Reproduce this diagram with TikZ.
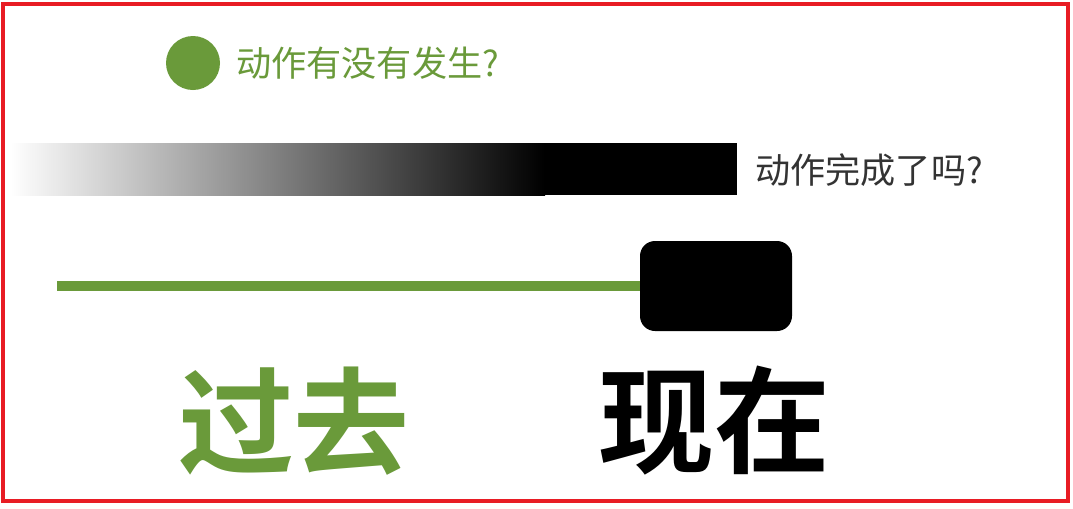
\documentclass[tikz,border=0pt]{standalone}
\usepackage{fontspec}
\usepackage{xcolor}
\newfontfamily\cjk{Noto Sans CJK SC}[BoldFont={Noto Sans CJK SC Bold}]
\definecolor{leafgreen}{RGB}{106,154,58}
\definecolor{framered}{RGB}{232,28,36}
\definecolor{asktext}{RGB}{51,51,51}

\begin{document}
\begin{tikzpicture}[x=0.02cm,y=-0.02cm,
  asklabel/.style={anchor=west,inner sep=0pt,font=\cjk\fontsize{20}{20}\selectfont},
  timeword/.style={inner sep=0pt,font=\cjk\bfseries\fontsize{66}{66}\selectfont}]
\useasboundingbox (0,0) rectangle (1073,508);
\fill[white] (0,0) rectangle (1073,508);
\draw[framered,line width=1.8pt] (3,4) rectangle (1068,501);
\node[circle,fill=leafgreen,minimum size=54*0.02cm,inner sep=0pt] (dot) at (193,63) {};
\node[asklabel,text=leafgreen] (happened) at (236,63) {动作有没有发生?};
\shade[left color=white,right color=black] (10,143) rectangle (545,195);
\fill[black] (544,143) rectangle (737,195);
\node[inner sep=0pt] (barend) at (737,169) {};
\node[asklabel,text=asktext] (finished) at (755,170) {动作完成了吗?};
\node[fill=black,rounded corners=0.3cm,minimum width=152*0.02cm,minimum height=90*0.02cm,inner sep=0pt] (nowbox) at (716,286) {};
\coordinate (linestart) at (57,286);
\draw[leafgreen,line width=5.5pt] (linestart) -- (nowbox.west);
\node[timeword,text=leafgreen] (past) at (294,421) {过去};
\node[timeword,text=black] (now) at (714,421) {现在};
\end{tikzpicture}
\end{document}
